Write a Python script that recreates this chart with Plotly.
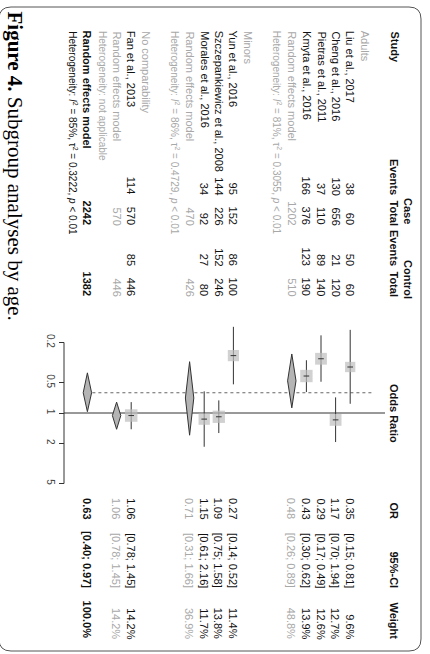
import math
import plotly.graph_objects as go

W, H = 430, 654

# ---- study data -------------------------------------------------------
studies = ["Liu et al., 2017", "Cheng et al., 2016", "Pietras et al., 2011",
           "Kmyta et al., 2016", "Yun et al., 2016",
           "Szczepankiewicz et al., 2008", "Morales et al., 2016",
           "Fan et al., 2013"]
study_group = ["Adults", "Adults", "Adults", "Adults",
               "Minors", "Minors", "Minors", "No comparability"]
case_events = [38, 130, 37, 166, 95, 144, 34, 114]
case_total = [60, 656, 110, 376, 152, 226, 92, 570]
ctrl_events = [50, 21, 89, 123, 86, 152, 27, 85]
ctrl_total = [60, 120, 140, 190, 100, 246, 80, 446]
odds_ratio = [0.35, 1.17, 0.29, 0.43, 0.27, 1.09, 1.15, 1.06]
ci_low = [0.15, 0.70, 0.17, 0.30, 0.14, 0.75, 0.61, 0.78]
ci_high = [0.81, 1.94, 0.49, 0.62, 0.52, 1.58, 2.16, 1.45]
weight = [9.6, 12.7, 12.6, 13.9, 11.4, 13.8, 11.7, 14.2]

# ---- subgroup pooled estimates ---------------------------------------
subgroups = ["Adults", "Minors", "No comparability"]
sub_case_total = [1202, 470, 570]
sub_ctrl_total = [510, 426, 446]
sub_or = [0.48, 0.71, 1.06]
sub_low = [0.26, 0.31, 0.78]
sub_high = [0.89, 1.66, 1.45]
sub_weight = [48.8, 36.9, 14.2]
sub_het = ["<i>I</i><sup>2</sup> = 81%, τ<sup>2</sup> = 0.3055, <i>p</i> &lt; 0.01",
           "<i>I</i><sup>2</sup> = 86%, τ<sup>2</sup> = 0.4729, <i>p</i> &lt; 0.01",
           "not applicable"]

# ---- overall estimate -------------------------------------------------
overall_case_total = 2242
overall_ctrl_total = 1382
overall_or = 0.63
overall_low = 0.40
overall_high = 0.97
overall_weight = 100.0
overall_het = "<i>I</i><sup>2</sup> = 85%, τ<sup>2</sup> = 0.3222, <i>p</i> &lt; 0.01"

axis_ticks = [0.2, 0.5, 1, 2, 5]
axis_ticktext = ["0.2", "0.5", "1", "2", "5"]

# ---- layout geometry (page is turned: rows run right-to-left) --------
HEAD1, HEAD2, PITCH = 408, 394, 14.6
AXIS_X = 64                     # position of the odds-ratio axis
OR1_PX, DECADE_PX = 413, 100.9  # page y of OR = 1 and pixels per decade

COL_STUDY = 30
COL_E1, COL_T1, COL_E2, COL_T2 = 196, 226, 267, 297
COL_OR, COL_CI, COL_W = 520, 589, 640

BLACK = "#111111"
GREY = "#a8a8a8"
FONT = "Liberation Sans"
FS = 11
FS_HET = 10


def py(v):
    return 1 - v / H


def row_x(k):
    return HEAD2 - k * PITCH


# assign row slots
study_rows, sub_rows, sub_head_rows = [], [], []
k = 2
for g in subgroups:
    sub_head_rows.append(k)
    k += 1
    for i, sg in enumerate(study_group):
        if sg == g:
            study_rows.append(k)
            k += 1
    sub_rows.append(k)
    k += 3
overall_row = k - 1

annotations = []


def txt(x, y, text, anchor="start", size=FS, color=BLACK, family=FONT):
    ya = {"start": "top", "end": "bottom", "middle": "middle"}[anchor]
    annotations.append(dict(
        x=x, xref="x", y=py(y), yref="paper", text=text, textangle=90,
        xanchor="center", yanchor=ya, showarrow=False, borderpad=0,
        font=dict(family=family, size=size, color=color)))


# headers
txt(row_x(0), COL_STUDY, "<b>Study</b>")
txt(HEAD1, 211, "<b>Case</b>", "middle")
txt(HEAD1, 279, "<b>Control</b>", "middle")
txt(HEAD2, COL_E1, "<b>Events</b>", "end")
txt(HEAD2, COL_T1, "<b>Total</b>", "end")
txt(HEAD2, COL_E2, "<b>Events</b>", "end")
txt(HEAD2, COL_T2, "<b>Total</b>", "end")
txt(HEAD2, OR1_PX, "<b>Odds Ratio</b>", "middle")
txt(HEAD2, COL_OR, "<b>OR</b>", "end")
txt(HEAD2, COL_CI, "<b>95%-CI</b>", "end")
txt(HEAD2, COL_W, "<b>Weight</b>", "end")


def ci_str(lo, hi):
    return f"[{lo:.2f}; {hi:.2f}]"


# study rows
for i, name in enumerate(studies):
    x = row_x(study_rows[i])
    txt(x, COL_STUDY, name)
    txt(x, COL_E1, str(case_events[i]), "end")
    txt(x, COL_T1, str(case_total[i]), "end")
    txt(x, COL_E2, str(ctrl_events[i]), "end")
    txt(x, COL_T2, str(ctrl_total[i]), "end")
    txt(x, COL_OR, f"{odds_ratio[i]:.2f}", "end")
    txt(x, COL_CI, ci_str(ci_low[i], ci_high[i]), "end")
    txt(x, COL_W, f"{weight[i]:.1f}%", "end")

# subgroup rows
for j, g in enumerate(subgroups):
    txt(row_x(sub_head_rows[j]), COL_STUDY, g, color=GREY)
    x = row_x(sub_rows[j])
    txt(x, COL_STUDY, "Random effects model", color=GREY)
    txt(x, COL_T1, str(sub_case_total[j]), "end", color=GREY)
    txt(x, COL_T2, str(sub_ctrl_total[j]), "end", color=GREY)
    txt(x, COL_OR, f"{sub_or[j]:.2f}", "end", color=GREY)
    txt(x, COL_CI, ci_str(sub_low[j], sub_high[j]), "end", color=GREY)
    txt(x, COL_W, f"{sub_weight[j]:.1f}%", "end", color=GREY)
    txt(row_x(sub_rows[j] + 1), COL_STUDY, "Heterogeneity: " + sub_het[j],
        size=FS_HET, color=GREY)

# overall rows
x = row_x(overall_row)
txt(x, COL_STUDY, "<b>Random effects model</b>")
txt(x, COL_T1, f"<b>{overall_case_total}</b>", "end")
txt(x, COL_T2, f"<b>{overall_ctrl_total}</b>", "end")
txt(x, COL_OR, f"<b>{overall_or:.2f}</b>", "end")
txt(x, COL_CI, f"<b>{ci_str(overall_low, overall_high)}</b>", "end")
txt(x, COL_W, f"<b>{overall_weight:.1f}%</b>", "end")
txt(row_x(overall_row + 1), COL_STUDY, "Heterogeneity: " + overall_het,
    size=FS_HET)

# caption
txt(15, 10, "<b>Figure 4.</b> Subgroup analyses by age.", size=21,
    family="Liberation Serif", color="#000000")

# ---- forest marks -----------------------------------------------------
fig = go.Figure()

# reference line at OR = 1 and dotted pooled-estimate line
fig.add_trace(go.Scatter(x=[AXIS_X, HEAD2 - 9], y=[1, 1], mode="lines",
                         line=dict(color="#333333", width=1), hoverinfo="skip"))
fig.add_trace(go.Scatter(x=[row_x(overall_row) + 5, row_x(2) + 7],
                         y=[overall_or, overall_or], mode="lines",
                         line=dict(color="#666666", width=1, dash="dot"),
                         hoverinfo="skip"))

# axis line spanning the tick range
fig.add_trace(go.Scatter(x=[AXIS_X, AXIS_X], y=[axis_ticks[0], axis_ticks[-1]],
                         mode="lines", line=dict(color="#333333", width=1),
                         hoverinfo="skip"))

# confidence intervals
for i in range(len(studies)):
    xr = row_x(study_rows[i])
    fig.add_trace(go.Scatter(x=[xr, xr], y=[ci_low[i], ci_high[i]], mode="lines",
                             line=dict(color="#333333", width=1), hoverinfo="skip"))

# weighted squares
fig.add_trace(go.Scatter(
    x=[row_x(r) for r in study_rows], y=odds_ratio, mode="markers",
    marker=dict(symbol="square", color="#bdbdbd",
                size=[12.5 * math.sqrt(w / max(weight)) for w in weight],
                line=dict(width=0)),
    hoverinfo="skip"))
fig.add_trace(go.Scatter(
    x=[row_x(r) for r in study_rows], y=odds_ratio, mode="markers",
    marker=dict(symbol="line-ew", size=4, line=dict(color="#333333", width=1)),
    hoverinfo="skip"))

# diamonds for pooled estimates
HALF = 4.2
pooled = list(zip([row_x(r) for r in sub_rows] + [row_x(overall_row)],
                  sub_or + [overall_or], sub_low + [overall_low],
                  sub_high + [overall_high]))
for xr, est, lo, hi in pooled:
    fig.add_trace(go.Scatter(
        x=[xr, xr + HALF, xr, xr - HALF, xr], y=[lo, est, hi, est, lo],
        mode="lines", fill="toself", fillcolor="#b4b4b4",
        line=dict(color="#333333", width=1), hoverinfo="skip"))

# ---- outer frame ------------------------------------------------------
x0, x1, y0, y1, r = -1, 421, 7, 651, 12
frame = (f"M {x0 + r},{py(y0)} L {x1 - r},{py(y0)} Q {x1},{py(y0)} {x1},{py(y0 + r)} "
         f"L {x1},{py(y1 - r)} Q {x1},{py(y1)} {x1 - r},{py(y1)} "
         f"L {x0 + r},{py(y1)} Q {x0},{py(y1)} {x0},{py(y1 - r)} "
         f"L {x0},{py(y0 + r)} Q {x0},{py(y0)} {x0 + r},{py(y0)} Z")

lo_rng, hi_rng = 0.1, 10
ybot = OR1_PX + DECADE_PX * math.log10(hi_rng)
ytop = OR1_PX + DECADE_PX * math.log10(lo_rng)

fig.update_layout(
    width=W, height=H, margin=dict(l=0, r=0, t=0, b=0),
    paper_bgcolor="white", plot_bgcolor="white", showlegend=False,
    font=dict(family=FONT, size=FS, color=BLACK),
    xaxis=dict(range=[0, W], domain=[0, 1], visible=False, fixedrange=True),
    yaxis=dict(type="log", range=[math.log10(hi_rng), math.log10(lo_rng)],
               domain=[py(ybot), py(ytop)], anchor="free", position=AXIS_X / W,
               showline=False, showgrid=False, zeroline=False,
               ticks="outside", ticklen=5, tickcolor="#333333",
               tickvals=axis_ticks, ticktext=axis_ticktext, tickangle=90,
               tickfont=dict(family=FONT, size=10, color="#444444"),
               fixedrange=True),
    annotations=annotations,
    shapes=[dict(type="path", path=frame, xref="x", yref="paper",
                 line=dict(color="#555555", width=1))],
)

fig.write_html("out.html")
